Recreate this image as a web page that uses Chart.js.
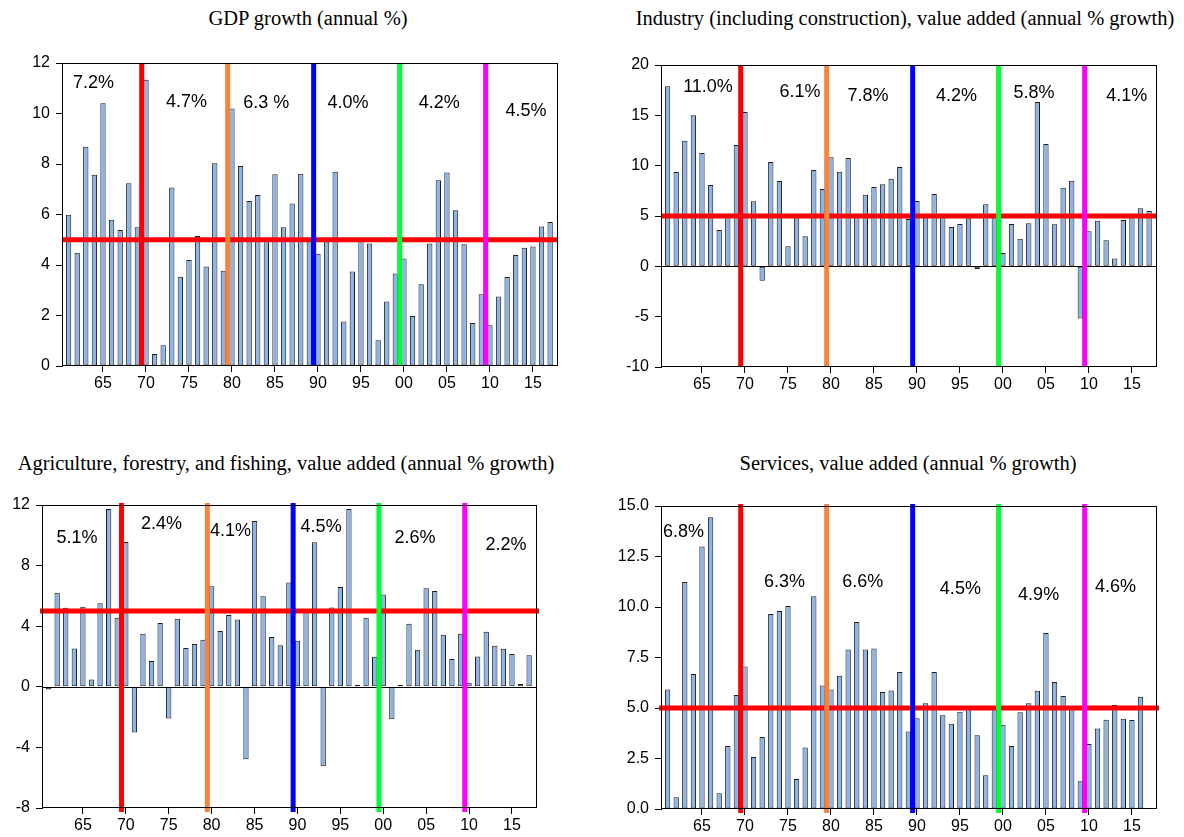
<!DOCTYPE html>
<html>
<head>
<meta charset="utf-8">
<script src="https://cdn.jsdelivr.net/npm/chart.js@4.4.0/dist/chart.umd.min.js"></script>
<style>
  html, body { margin: 0; padding: 0; background: #fff; }
  body { width: 1184px; height: 837px; position: relative; overflow: hidden; }
  .panel-title {
    position: absolute;
    font-family: 'Liberation Serif', 'Times New Roman', serif;
    font-size: 20.5px;
    line-height: 20px;
    color: #000;
    white-space: nowrap;
    transform: translateX(-50%);
  }
  canvas { position: absolute; }
</style>
</head>
<body>

<div class="panel-title" style="left:308px; top:8px;">GDP growth (annual %)</div>
<div class="panel-title" style="left:905px; top:8px;">Industry (including construction), value added (annual % growth)</div>
<div class="panel-title" style="left:286px; top:453px;">Agriculture, forestry, and fishing, value added (annual % growth)</div>
<div class="panel-title" style="left:908px; top:453px;">Services, value added (annual % growth)</div>

<canvas id="gdpChart"></canvas>
<canvas id="industryChart"></canvas>
<canvas id="agriChart"></canvas>
<canvas id="servicesChart"></canvas>

<script>
// =============================================
// Data (annual % growth, 1961-2017)
// =============================================
const years = Array.from({ length: 57 }, (_, i) => 1961 + i);

const gdpGrowth = [
  5.99, 4.49, 8.68, 7.57, 10.41, 5.79, 5.39, 7.24, 5.50, 11.34,
  0.48, 0.82, 7.07, 3.53, 4.20, 5.15, 3.94, 8.03, 3.77, 10.20,
  7.92, 6.53, 6.77, 5.05, 7.59, 5.50, 6.44, 7.61, 4.96, 4.45,
  5.05, 7.69, 1.76, 3.74, 4.96, 4.85, 1.02, 2.55, 3.66, 4.26,
  1.98, 3.24, 4.85, 7.36, 7.66, 6.17, 4.82, 1.70, 2.84, 1.61,
  2.75, 3.52, 4.40, 4.68, 4.73, 5.52, 5.70
];

const industryGrowth = [
  17.90, 9.37, 12.48, 15.00, 11.26, 8.08, 3.61, 5.17, 12.05, 15.33,
  6.46, -1.42, 10.36, 8.48, 1.99, 4.97, 2.98, 9.57, 7.68, 10.83,
  9.40, 10.76, 5.00, 7.12, 7.88, 8.15, 8.71, 9.87, 4.70, 6.49,
  5.17, 7.19, 4.97, 3.91, 4.21, 4.77, -0.26, 6.16, 5.00, 1.32,
  4.21, 2.75, 4.27, 16.32, 12.15, 4.17, 7.81, 8.51, -5.17, 3.48,
  4.54, 2.58, 0.79, 4.60, 5.23, 5.76, 5.50
];

const agriGrowth = [
  -0.18, 6.21, 5.22, 2.53, 5.29, 0.48, 5.51, 11.74, 4.56, 9.56,
  -3.02, 3.50, 1.70, 4.21, -2.09, 4.49, 2.56, 2.82, 3.11, 6.63,
  3.68, 4.74, 4.45, -4.78, 10.95, 5.97, 3.28, 2.75, 6.89, 3.04,
  4.96, 9.54, -5.24, 5.24, 6.59, 11.74, 0.13, 4.56, 1.98, 6.10,
  -2.14, 0.13, 4.16, 2.44, 6.50, 6.32, 3.44, 1.83, 3.50, 0.26,
  2.00, 3.63, 2.71, 2.51, 2.16, 0.18, 2.09
];

const servicesGrowth = [
  5.91, 0.58, 11.24, 6.68, 12.99, 14.44, 0.78, 3.12, 5.64, 7.06,
  2.57, 3.56, 9.65, 9.80, 10.05, 1.49, 3.05, 10.53, 6.12, 5.92,
  6.60, 7.90, 9.26, 7.90, 7.94, 5.79, 5.87, 6.78, 3.84, 4.49,
  5.23, 6.78, 4.64, 4.22, 4.82, 5.00, 3.65, 1.67, 5.00, 4.17,
  3.12, 4.79, 5.23, 5.86, 8.71, 6.29, 5.59, 4.95, 1.37, 3.22,
  3.98, 4.42, 5.15, 4.47, 4.41, 5.56, null
];

// decade averages written on each panel
const gdpNotes      = ['7.2%', '4.7%', '6.3 %', '4.0%', '4.2%', '4.5%'];
const industryNotes = ['11.0%', '6.1%', '7.8%', '4.2%', '5.8%', '4.1%'];
const agriNotes     = ['5.1%', '2.4%', '4.1%', '4.5%', '2.6%', '2.2%'];
const servicesNotes = ['6.8%', '6.3%', '6.6%', '4.5%', '4.9%', '4.6%'];

// tick labels
const xTickYears    = [1965, 1970, 1975, 1980, 1985, 1990, 1995, 2000, 2005, 2010, 2015];
const gdpTicks      = [0, 2, 4, 6, 8, 10, 12];
const industryTicks = [-10, -5, 0, 5, 10, 15, 20];
const agriTicks     = [-8, -4, 0, 4, 8, 12];
const servicesTicks = [0, 2.5, 5, 7.5, 10, 12.5, 15];

// reference lines
const targetLevel = 5;
const breakYears  = [1969.5, 1979.5, 1989.5, 1999.5, 2009.5];
const breakColors = ['#ff0000', '#f8843c', '#0000ff', '#00ff33', '#ff00ff'];

// =============================================
// Plugin: reference lines, notes, frame
// =============================================
const panelDecor = {
  id: 'panelDecor',
  afterDatasetsDraw(chart, args, opts) {
    const { ctx, chartArea: a, scales: { x, y } } = chart;
    ctx.save();

    // zero line
    if (y.min < 0) {
      const y0 = Math.round(y.getPixelForValue(0)) + 0.5;
      ctx.strokeStyle = '#000';
      ctx.lineWidth = 1;
      ctx.beginPath();
      ctx.moveTo(a.left, y0);
      ctx.lineTo(a.right, y0);
      ctx.stroke();
    }

    // horizontal 5% line
    const y5 = y.getPixelForValue(targetLevel);
    ctx.strokeStyle = '#ff0000';
    ctx.lineWidth = 5;
    ctx.beginPath();
    ctx.moveTo(a.left - opts.hOver, y5);
    ctx.lineTo(a.right + opts.hOver, y5);
    ctx.stroke();

    // decade breaks
    breakYears.forEach((yr, i) => {
      const px = x.getPixelForValue(yr);
      ctx.strokeStyle = breakColors[i];
      ctx.lineWidth = 5;
      ctx.beginPath();
      ctx.moveTo(px, a.top - opts.vOverTop);
      ctx.lineTo(px, a.bottom + opts.vOverBottom);
      ctx.stroke();
    });

    // notes
    ctx.fillStyle = '#000';
    ctx.font = '18px "Liberation Sans", Arial, sans-serif';
    ctx.textAlign = 'center';
    ctx.textBaseline = 'middle';
    opts.notes.forEach((txt, i) => {
      const p = opts.notePos[i];
      ctx.fillText(txt, x.getPixelForValue(p[0]), y.getPixelForValue(p[1]));
    });

    // frame
    ctx.strokeStyle = '#000';
    ctx.lineWidth = 1;
    ctx.strokeRect(Math.round(a.left) - 0.5, Math.round(a.top) + 0.5,
                   Math.round(a.right - a.left) + 1, Math.round(a.bottom - a.top) - 1);

    ctx.restore();
  }
};

// =============================================
// Panel builder
// =============================================
function makePanel(p) {
  const cv = document.getElementById(p.canvas);
  cv.width = p.box.width;
  cv.height = p.box.height;
  cv.style.left = p.box.left + 'px';
  cv.style.top = p.box.top + 'px';

  const tickFont = { family: "'Liberation Sans', Arial, sans-serif", size: 16 };

  new Chart(cv, {
    type: 'bar',
    data: {
      datasets: [{
        data: years.map((yr, i) => ({ x: yr, y: p.values[i] })),
        backgroundColor: '#8db4e6',
        borderColor: '#1e1e1e',
        borderWidth: 1,
        borderSkipped: false,
        barPercentage: 0.62,
        categoryPercentage: 1
      }]
    },
    options: {
      responsive: false,
      animation: false,
      events: [],
      layout: {
        padding: {
          left: 0,
          top: p.plot.t - p.box.top,
          right: p.box.left + p.box.width - p.plot.r,
          bottom: 0
        }
      },
      plugins: {
        legend: { display: false },
        tooltip: { enabled: false },
        panelDecor: {
          notes: p.notes,
          notePos: p.notePos,
          hOver: p.hOver,
          vOverTop: p.vOverTop,
          vOverBottom: p.vOverBottom
        }
      },
      scales: {
        x: {
          type: 'linear',
          min: 1960.35,
          max: 2017.8,
          offset: false,
          border: { display: false },
          grid: { offset: false, drawOnChartArea: false, color: '#000', tickLength: 6 },
          ticks: {
            color: '#000',
            font: tickFont,
            padding: 2,
            maxRotation: 0,
            callback: (v) => String(v % 100).padStart(2, '0')
          },
          afterBuildTicks: (s) => { s.ticks = xTickYears.map(v => ({ value: v })); },
          afterFit: (s) => { s.height = p.box.top + p.box.height - p.plot.b; }
        },
        y: {
          min: p.yTicks[0],
          max: p.yTicks[p.yTicks.length - 1],
          border: { display: false },
          grid: { drawOnChartArea: false, color: '#000', tickLength: 7 },
          ticks: {
            color: '#000',
            font: tickFont,
            padding: 6,
            callback: (v) => v.toFixed(p.decimals)
          },
          afterBuildTicks: (s) => { s.ticks = p.yTicks.map(v => ({ value: v })); },
          afterFit: (s) => { s.width = p.plot.l - p.box.left; }
        }
      }
    },
    plugins: [panelDecor]
  });
}

// =============================================
// Four panels
// =============================================
makePanel({
  canvas: 'gdpChart',
  box: { left: 0, top: 40, width: 590, height: 370 },
  plot: { l: 63, t: 63, r: 557, b: 366 },
  values: gdpGrowth, yTicks: gdpTicks, decimals: 0,
  notes: gdpNotes,
  notePos: [[1963.9, 11.2], [1974.7, 10.45], [1984.0, 10.4], [1993.5, 10.4], [2004.1, 10.4], [2014.2, 10.1]],
  hOver: 0, vOverTop: 0, vOverBottom: 0
});

makePanel({
  canvas: 'industryChart',
  box: { left: 595, top: 40, width: 589, height: 370 },
  plot: { l: 662, t: 65, r: 1156, b: 367 },
  values: industryGrowth, yTicks: industryTicks, decimals: 0,
  notes: industryNotes,
  notePos: [[1965.7, 17.8], [1976.4, 17.3], [1984.3, 16.9], [1994.6, 16.9], [2003.6, 17.25], [2014.4, 16.9]],
  hOver: 0, vOverTop: 0, vOverBottom: 0
});

makePanel({
  canvas: 'agriChart',
  box: { left: 0, top: 480, width: 590, height: 357 },
  plot: { l: 43, t: 505, r: 536, b: 808 },
  values: agriGrowth, yTicks: agriTicks, decimals: 0,
  notes: agriNotes,
  notePos: [[1964.3, 9.83], [1974.15, 10.75], [1982.2, 10.29], [1992.76, 10.56], [2003.7, 9.83], [2014.3, 9.37]],
  hOver: 3, vOverTop: 2, vOverBottom: 4
});

makePanel({
  canvas: 'servicesChart',
  box: { left: 595, top: 480, width: 589, height: 357 },
  plot: { l: 662, t: 506, r: 1156, b: 809 },
  values: servicesGrowth, yTicks: servicesTicks, decimals: 1,
  notes: servicesNotes,
  notePos: [[1962.85, 13.73], [1974.6, 11.23], [1983.7, 11.23], [1995.05, 10.9], [2004.15, 10.6], [2013.1, 10.99]],
  hOver: 3, vOverTop: 2, vOverBottom: 4
});
</script>
</body>
</html>
